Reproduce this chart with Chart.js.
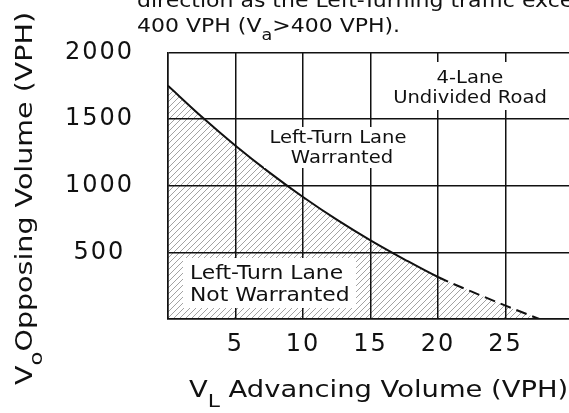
<!DOCTYPE html>
<html>
<head>
<meta charset="utf-8">
<script src="https://cdn.jsdelivr.net/npm/chart.js@4.4.1/dist/chart.umd.min.js"></script>
<style>
  html, body { margin: 0; padding: 0; background: #fff; overflow: hidden; }
  #wrap { width: 569px; height: 413px; overflow: hidden; }
</style>
</head>
<body>
<div id="wrap"><canvas id="grafico" width="584" height="413"></canvas></div>
<script>
// curva: volume de avanco (V_L) x volume oposto (V_o)
const volumeAvanco = [0, 2.5, 5, 7.5, 10, 12.5, 15, 17.5, 20, 22.5, 25, 27.5];
const volumeOposto = [1750, 1517, 1300, 1100, 915, 745, 590, 448, 315, 205, 100, 0];
const ticksX = [5, 10, 15, 20, 25];
const ticksY = [500, 1000, 1500, 2000];
const limiteTracejado = 20; // depois disso a linha fica tracejada

const FONTE = '"DejaVu Sans", sans-serif';

// hachura cinza em diagonal "/"
function criarHachura(ctx) {
    const c = document.createElement('canvas');
    c.width = 6; c.height = 6;
    const g = c.getContext('2d');
    g.strokeStyle = '#a3a3a3';
    g.lineWidth = 1;
    g.beginPath();
    g.moveTo(0, 6); g.lineTo(6, 0);
    g.moveTo(-1, 1); g.lineTo(1, -1);
    g.moveTo(5, 7); g.lineTo(7, 5);
    g.stroke();
    return ctx.createPattern(c, 'repeat');
}

// texto "largo" (fonte esticada na horizontal), com partes em subscrito
function textoLargo(ctx, partes, x, y, tam, esticar, alinhar, angulo) {
    ctx.save();
    let total = 0;
    const larguras = [];
    for (const p of partes) {
        ctx.font = (p[1] ? tam * 0.8 : tam) + 'px ' + FONTE;
        const w = ctx.measureText(p[0]).width;
        larguras.push(w);
        total += w;
    }
    ctx.translate(x, y);
    if (angulo) ctx.rotate(angulo);
    ctx.scale(esticar, 1);
    ctx.fillStyle = '#111';
    ctx.textBaseline = 'alphabetic';
    ctx.textAlign = 'left';
    let cx = alinhar === 'center' ? -total / 2 : 0;
    partes.forEach(function (p, i) {
        ctx.font = (p[1] ? tam * 0.8 : tam) + 'px ' + FONTE;
        ctx.fillText(p[0], cx, p[1] ? tam * 0.42 : 0);
        cx += larguras[i];
    });
    ctx.restore();
}

function caixaBranca(ctx, x, y, w, h) {
    ctx.save();
    ctx.fillStyle = '#fff';
    ctx.fillRect(x, y, w, h);
    ctx.restore();
}

const pluginTextos = {
    id: 'textos',
    beforeDraw(chart) {
        // um pouco de espacamento para os numeros dos eixos
        chart.ctx.letterSpacing = '2px';
    },
    afterDraw(chart) {
        const ctx = chart.ctx;
        ctx.letterSpacing = '0px';

        // rotulos dentro do grafico (caixas brancas cobrem a grade)
        caixaBranca(ctx, 390, 62, 160, 48);
        textoLargo(ctx, [['4-Lane']], 470, 83, 17, 1.15, 'center');
        textoLargo(ctx, [['Undivided Road']], 470, 103, 17, 1.15, 'center');

        caixaBranca(ctx, 264, 127, 148, 41);
        textoLargo(ctx, [['Left-Turn Lane']], 338, 143, 17, 1.15, 'center');
        textoLargo(ctx, [['Warranted']], 342, 163, 17, 1.15, 'center');

        caixaBranca(ctx, 183, 258, 173, 50);
        textoLargo(ctx, [['Left-Turn Lane']], 190, 279, 19, 1.15, 'left');
        textoLargo(ctx, [['Not Warranted']], 190, 301, 19, 1.15, 'left');

        // nota no topo (cortada pela borda)
        textoLargo(ctx, [['direction as the Left-Turning traffic exceeds']], 137, 7, 20, 1.1, 'left');
        textoLargo(ctx, [['400 VPH (V'], ['a', true], ['>400 VPH).']], 137, 32, 20, 1.1, 'left');

        // titulos dos eixos
        textoLargo(ctx, [['V'], ['L', true], [' Advancing Volume (VPH)']], 189, 397, 23, 1.19, 'left');
        textoLargo(ctx, [['V'], ['o', true], ['Opposing Volume (VPH)']], 32, 385, 23, 1.24, 'left', -Math.PI / 2);
    }
};

const dados = {
    datasets: [{
        label: 'Limite',
        data: volumeAvanco.map(function (v, i) { return { x: v, y: volumeOposto[i] }; }),
        borderColor: '#111',
        borderWidth: 2,
        pointRadius: 0,
        cubicInterpolationMode: 'monotone',
        fill: 'origin',
        backgroundColor: criarHachura(document.getElementById('grafico').getContext('2d')),
        segment: {
            borderDash: function (c) { return c.p0.parsed.x >= limiteTracejado ? [11, 6] : undefined; }
        }
    }]
};

const config = {
    type: 'line',
    data: dados,
    options: {
        responsive: false,
        animation: false,
        layout: { padding: { left: 0, top: 49, right: 0, bottom: 0 } },
        plugins: { legend: { display: false }, tooltip: { enabled: false } },
        scales: {
            x: {
                type: 'linear',
                min: 0,
                max: 30,
                afterFit: function (s) { s.height = 94; },
                grid: { color: '#111', lineWidth: 1.5, drawTicks: false, z: 1 },
                border: { color: '#111', width: 1.5, z: 1 },
                ticks: {
                    stepSize: 5,
                    padding: 11,
                    color: '#111',
                    font: { family: 'DejaVu Sans', size: 24 },
                    callback: function (v) { return ticksX.includes(v) ? String(v) : ''; }
                }
            },
            y: {
                min: 0,
                max: 2000,
                afterFit: function (s) { s.width = 168; },
                grid: { color: '#111', lineWidth: 1.5, drawTicks: false, z: 1 },
                border: { color: '#111', width: 1.5, z: 1 },
                ticks: {
                    stepSize: 500,
                    padding: 38,
                    crossAlign: 'center',
                    color: '#111',
                    font: { family: 'DejaVu Sans', size: 24 },
                    callback: function (v) { return ticksY.includes(v) ? String(v) : ''; }
                }
            }
        }
    },
    plugins: [pluginTextos]
};

let myChart = new Chart(document.getElementById('grafico'), config);
</script>
</body>
</html>
